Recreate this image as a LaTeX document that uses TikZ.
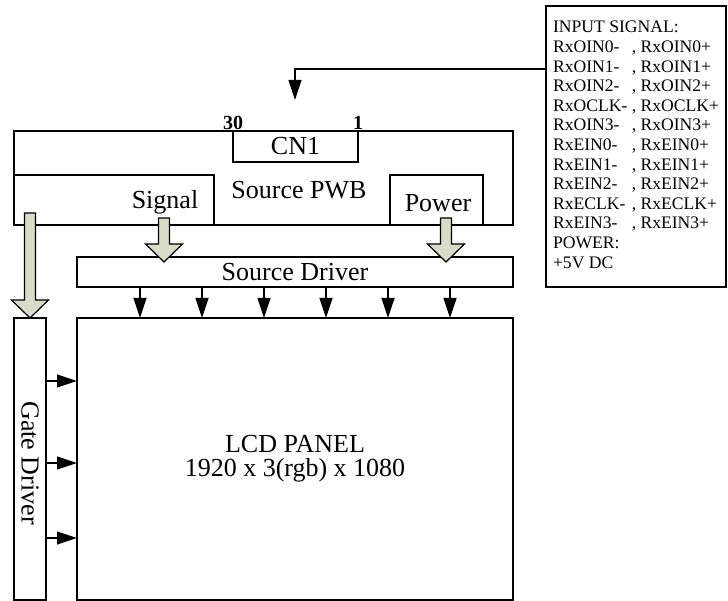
\documentclass[tikz,border=0pt]{standalone}
\usepackage{fontspec}
\setmainfont{Liberation Serif}
\usetikzlibrary{arrows.meta, calc}
\definecolor{arrowfill}{RGB}{216,220,200}
\tikzset{
  box/.style={draw, line width=1.2pt, outer sep=0pt, inner sep=1pt, anchor=north west, font=\fontsize{26}{24}\selectfont},
  lbl/.style={font=\fontsize{26}{24}\selectfont, inner sep=0pt, anchor=base},
  num/.style={font=\fontsize{20}{22}\selectfont\bfseries, inner sep=1pt, anchor=south},
  arrow/.style={line width=1.2pt, -{Triangle[length=20pt,width=13pt]}},
  fat/.style={draw, fill=arrowfill, line width=1.2pt,
    to path={let \p1=(\tikztostart), \p2=(\tikztotarget) in
      (\x1-5.5pt,\y1) -- (\x1+5.5pt,\y1) -- (\x1+5.5pt,\y2+18pt) -- (\x1+18.5pt,\y2+18pt)
      -- (\x1,\y2) -- (\x1-18.5pt,\y2+18pt) -- (\x1-5.5pt,\y2+18pt) -- cycle}}
}

\begin{document}
\begin{tikzpicture}[x=1pt, y=-1pt]
\useasboundingbox (0,0) rectangle (728,601);

% source board
\node[box, minimum width=499, minimum height=94] (pwb) at (14,131) {};
\node[box, minimum width=125, minimum height=31] (cn1) at (233,131) {CN1};
\node[box, minimum width=200, minimum height=50] (signal) at (14,175) {};
\node[box, minimum width=93, minimum height=50] (power) at (390,175) {};
\node[lbl] (pwbtext) at (299,199) {Source PWB};
\node[lbl] (signaltext) at (165,209) {Signal};
\node[lbl] (powertext) at (438,212) {Power};
\node[num] (pin30) at (cn1.north west) {30};
\node[num] (pin1) at (cn1.north east) {1};

% drivers and panel
\node[box, minimum width=436, minimum height=30] (driver) at (77,257) {Source Driver};
\node[box, minimum width=436, minimum height=282, align=center] (panel) at (77,318) {LCD PANEL\\1920 x 3(rgb) x 1080};
\node[box, minimum width=32, minimum height=282] (gate) at (14,318) {};
\node[lbl, rotate=-90, anchor=center] (gatetext) at ($(gate.center)+(0,4)$) {Gate Driver};

% input signal list
\node[box, minimum width=180, minimum height=281, inner sep=0pt, font=\fontsize{17.6}{19.6}\selectfont] (inbox) at (546,6) {%
\begin{tabular}{@{}l@{\ , }l@{}}
\multicolumn{2}{@{}l}{INPUT SIGNAL:}\\
RxOIN0- & RxOIN0+\\
RxOIN1- & RxOIN1+\\
RxOIN2- & RxOIN2+\\
RxOCLK- & RxOCLK+\\
RxOIN3- & RxOIN3+\\
RxEIN0- & RxEIN0+\\
RxEIN1- & RxEIN1+\\
RxEIN2- & RxEIN2+\\
RxECLK- & RxECLK+\\
RxEIN3- & RxEIN3+\\
\multicolumn{2}{@{}l}{POWER:}\\
\multicolumn{2}{@{}l}{+5V DC}
\end{tabular}};

\coordinate (cntip) at (295,100);
\draw[arrow] ($(inbox.north west)+(0,63)$) -| (cntip);

% fat arrows
\path[fat] ($(signal.south east)+(-50,-7)$) to ($(driver.north west)+(87,5)$);
\path[fat] ($(power.south east)+(-37,-7)$) to ($(driver.north west)+(369,5)$);
\path[fat] ($(pwb.south west)+(16,-12)$) to (gate.north);

% driver outputs
\foreach \x in {140,202,...,450}
  \draw[arrow] ($(driver.south west)+(\x-77,0)$) -- ($(panel.north west)+(\x-77,0)$);
\foreach \y in {63,145,220}
  \draw[arrow] ($(gate.north east)+(0,\y)$) -- ($(panel.north west)+(0,\y)$);

\end{tikzpicture}
\end{document}
